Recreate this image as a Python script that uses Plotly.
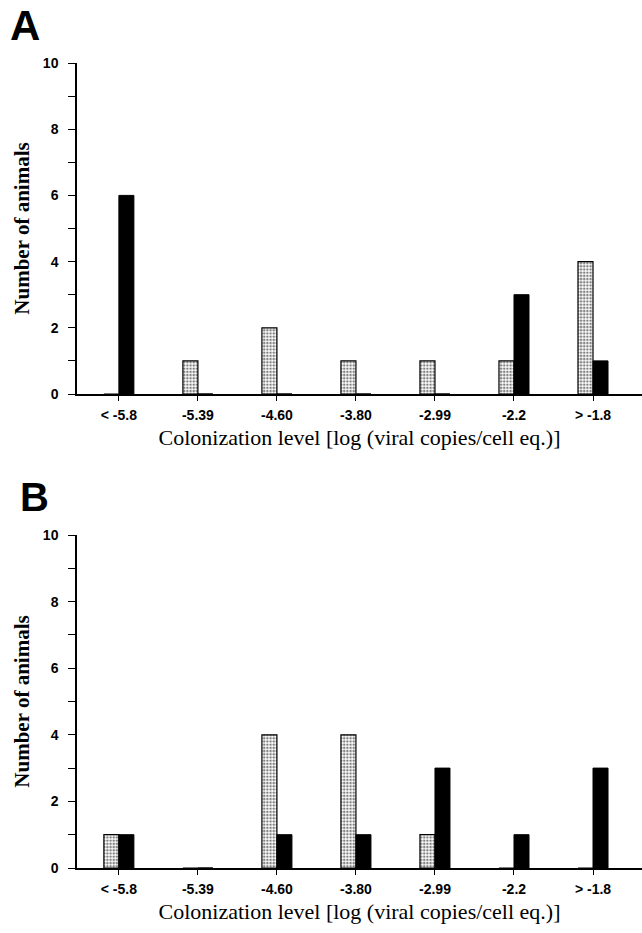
import plotly.graph_objects as go

categories = ["< -5.8", "-5.39", "-4.60", "-3.80", "-2.99", "-2.2", "> -1.8"]
a_dotted = [0, 1, 2, 1, 1, 1, 4]
a_black = [6, 0, 0, 0, 0, 3, 1]
b_dotted = [1, 0, 4, 4, 1, 0, 0]
b_black = [1, 0, 1, 1, 3, 1, 3]
y_ticks = [0, 2, 4, 6, 8, 10]
x_title = "Colonization level [log (viral copies/cell eq.)]"
y_title = "Number of animals"

W, H = 642, 933
fig = go.Figure()

def dotted(x, y, xa, ya):
    return go.Bar(x=x, y=y, xaxis=xa, yaxis=ya, showlegend=False,
                  marker=dict(color="white", line=dict(color="black", width=1.2),
                              pattern=dict(shape=".", fgcolor="black", bgcolor="white",
                                           size=3.2, solidity=0.5)))

def black(x, y, xa, ya):
    return go.Bar(x=x, y=y, xaxis=xa, yaxis=ya, showlegend=False,
                  marker=dict(color="black", line=dict(color="black", width=1)))

fig.add_trace(dotted(categories, a_dotted, "x", "y"))
fig.add_trace(black(categories, a_black, "x", "y"))
fig.add_trace(dotted(categories, b_dotted, "x2", "y2"))
fig.add_trace(black(categories, b_black, "x2", "y2"))

xdom = [77 / W, 1.0]
ydomA = [1 - 394 / H, 1 - 63 / H]
ydomB = [1 - 868 / H, 1 - 535 / H]
xrange = [-0.53, 6.62]
# separator ticks between neighbouring categories (interior boundaries only)
boundaries = [i + 0.5 for i in range(len(categories) - 1)]

tickfont_x = dict(family="Liberation Sans", size=14, color="black", weight="bold")
tickfont_y = dict(family="Liberation Sans", size=14, color="black", weight="bold")
titlefont = dict(family="Liberation Serif", size=22, color="black")
ytitlefont = dict(family="Liberation Serif", size=21, color="black", weight="bold")

def xaxis_main(anchor, title):
    return dict(domain=xdom, anchor=anchor, type="category", range=xrange,
                automargin=False,
                showline=True, linecolor="black", linewidth=1.5,
                ticks="outside", ticklen=5, tickwidth=1.2, tickcolor="black",
                ticklabelstandoff=2,
                tickfont=tickfont_x, showgrid=False, zeroline=False,
                title=dict(text=title, font=titlefont, standoff=8),
                categoryorder="array", categoryarray=categories)

def xaxis_bound(overlay, anchor):
    return dict(domain=xdom, anchor=anchor, overlaying=overlay, type="linear",
                range=xrange, tickmode="array", tickvals=boundaries,
                ticks="outside", ticklen=12, automargin=False,
                tickwidth=1.2, tickcolor="black", showticklabels=False,
                showgrid=False, zeroline=False, showline=False)

def yaxis(dom, anchor):
    return dict(domain=dom, anchor=anchor, range=[0, 10], tickvals=y_ticks,
                automargin=False,
                showline=True, linecolor="black", linewidth=1.5,
                ticks="outside", ticklen=7, tickwidth=1.2, tickcolor="black",
                ticklabelstandoff=7,
                minor=dict(dtick=1, ticks="outside", ticklen=7, tickcolor="black", tickwidth=1.2),
                tickfont=tickfont_y, showgrid=False, zeroline=False,
                title=dict(text=y_title, font=ytitlefont, standoff=8))

fig.update_layout(
    width=W, height=H, margin=dict(l=0, r=0, t=0, b=0, autoexpand=False),
    paper_bgcolor="white", plot_bgcolor="white",
    barmode="group", bargap=0.62, bargroupgap=0.0,
    xaxis=xaxis_main("y", x_title),
    yaxis=yaxis(ydomA, "x"),
    xaxis2=xaxis_main("y2", x_title),
    yaxis2=yaxis(ydomB, "x2"),
    xaxis3=xaxis_bound("x", "y"),
    xaxis4=xaxis_bound("x2", "y2"),
    annotations=[
        dict(text="<b>A</b>", x=8 / W, y=1 - 26 / H, xref="paper", yref="paper",
             xanchor="left", yanchor="middle", showarrow=False,
             font=dict(family="Liberation Sans", size=42, color="black")),
        dict(text="<b>B</b>", x=18 / W, y=1 - 497 / H, xref="paper", yref="paper",
             xanchor="left", yanchor="middle", showarrow=False,
             font=dict(family="Liberation Sans", size=40, color="black")),
    ],
)

fig.write_html("out.html")
